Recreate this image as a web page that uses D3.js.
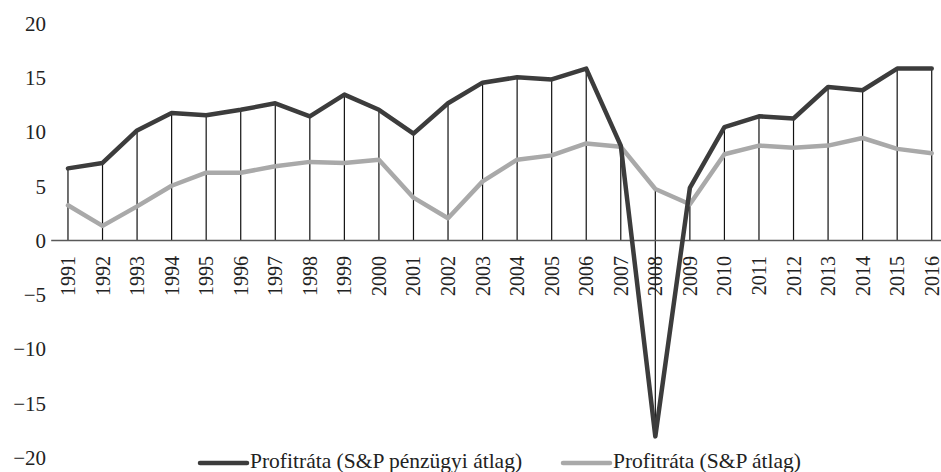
<!DOCTYPE html>
<html>
<head>
	<meta charset="utf-8" />
	<script src="https://cdn.jsdelivr.net/npm/d3@7/dist/d3.min.js"></script>
	<style type="text/css">
	body {
	  margin: 0;
	  background-color: white;
	}
	</style>
</head>
<body>

	<svg width="941" height="472" version="1.1" xmlns="http://www.w3.org/2000/svg"></svg>

	<script type="text/javascript">
		// 数据
		var v_Years     = ["1991","1992","1993","1994","1995","1996","1997","1998","1999","2000",
		                   "2001","2002","2003","2004","2005","2006","2007","2008","2009","2010",
		                   "2011","2012","2013","2014","2015","2016"];
		var v_Financial = [6.6, 7.1, 10.1, 11.7, 11.5, 12.0, 12.6, 11.4, 13.4, 12.0,
		                   9.8, 12.6, 14.5, 15.0, 14.8, 15.8, 8.7, -18.1, 4.8, 10.4,
		                   11.4, 11.2, 14.1, 13.8, 15.8, 15.8];
		var v_Average   = [3.2, 1.3, 3.1, 5.0, 6.2, 6.2, 6.8, 7.2, 7.1, 7.4,
		                   3.9, 2.0, 5.4, 7.4, 7.8, 8.9, 8.6, 4.7, 3.3, 7.9,
		                   8.7, 8.5, 8.7, 9.4, 8.4, 8.0];
		var v_YTicks    = [-20, -15, -10, -5, 0, 5, 10, 15, 20];
		var v_Names     = ["Profitráta (S&P pénzügyi átlag)", "Profitráta (S&P átlag)"];
		var v_Colors    = ["#3c3c3c", "#a9a9a9"];
		var v_Font      = "'Liberation Serif'";

		var v_SVG    = d3.select("svg");
		var v_xScale = d3.scaleBand()
		                 .domain(v_Years)
		                 .range([50.7, 50.7 + 26 * 34.55]);
		var v_yScale = d3.scaleLinear()
		                 .domain([-20, 20])
		                 .range([457, 23]);
		function f_X(i) { return v_xScale(v_Years[i]) + v_xScale.bandwidth() / 2; }

		// y轴
		var v_GYAxis = v_SVG.append("g")
		                 .attr("transform", "translate(46,0)")
		                 .call(d3.axisLeft(v_yScale).tickValues(v_YTicks).tickSize(0).tickPadding(0));
		v_GYAxis.select(".domain").remove();
		v_GYAxis.selectAll("text")
		        .attr("dy", "0.35em")
		        .style("font-family", v_Font)
		        .style("font-size", "21px")
		        .attr("fill", "#222");

		// 垂直线 (drop lines)
		v_SVG.append("g").selectAll("line")
		     .data(v_Years)
		     .enter().append("line")
		     .attr("x1", function(d, i) { return f_X(i); })
		     .attr("x2", function(d, i) { return f_X(i); })
		     .attr("y1", function(d, i) { return v_yScale(Math.max(0, v_Financial[i], v_Average[i])); })
		     .attr("y2", function(d, i) { return v_yScale(Math.min(0, v_Financial[i], v_Average[i])); })
		     .attr("stroke", "#111")
		     .attr("stroke-width", 1.2);

		// x轴
		var v_GXAxis = v_SVG.append("g")
		                 .attr("transform", "translate(0," + v_yScale(0) + ")")
		                 .call(d3.axisBottom(v_xScale).tickSize(0).tickSizeOuter(0));
		v_GXAxis.select(".domain").attr("stroke", "#595959").attr("stroke-width", 1.3);
		v_GXAxis.selectAll("text")
		        .attr("transform", "rotate(-90)")
		        .attr("text-anchor", "end")
		        .attr("x", -16)
		        .attr("y", 0)
		        .attr("dy", "0.35em")
		        .style("font-family", v_Font)
		        .style("font-size", "20px")
		        .attr("fill", "#222");

		// 折线
		var v_Line = d3.line()
		               .x(function(d, i) { return f_X(i); })
		               .y(function(d) { return v_yScale(d); });
		[v_Average, v_Financial].forEach(function(i_Data, k)
		{
			v_SVG.append("path")
			     .datum(i_Data)
			     .attr("fill", "none")
			     .attr("stroke", v_Colors[1 - k])
			     .attr("stroke-width", 4.5)
			     .attr("stroke-linejoin", "round")
			     .attr("stroke-linecap", "round")
			     .attr("d", v_Line);
		});

		// 图例
		var v_LegendX = [200, 563];
		var v_Legend = v_SVG.append("g").selectAll("g")
		                    .data(v_Names)
		                    .enter().append("g")
		                    .attr("transform", function(d, i) { return "translate(" + v_LegendX[i] + ",463)"; });
		v_Legend.append("line")
		        .attr("x1", 0).attr("x2", 47)
		        .attr("stroke", function(d, i) { return v_Colors[i]; })
		        .attr("stroke-width", 4.5)
		        .attr("stroke-linecap", "round");
		v_Legend.append("text")
		        .attr("x", 50)
		        .attr("y", 5)
		        .style("font-family", v_Font)
		        .style("font-size", "21.5px")
		        .attr("fill", "#222")
		        .text(function(d) { return d; });
	</script>

</body>
</html>
